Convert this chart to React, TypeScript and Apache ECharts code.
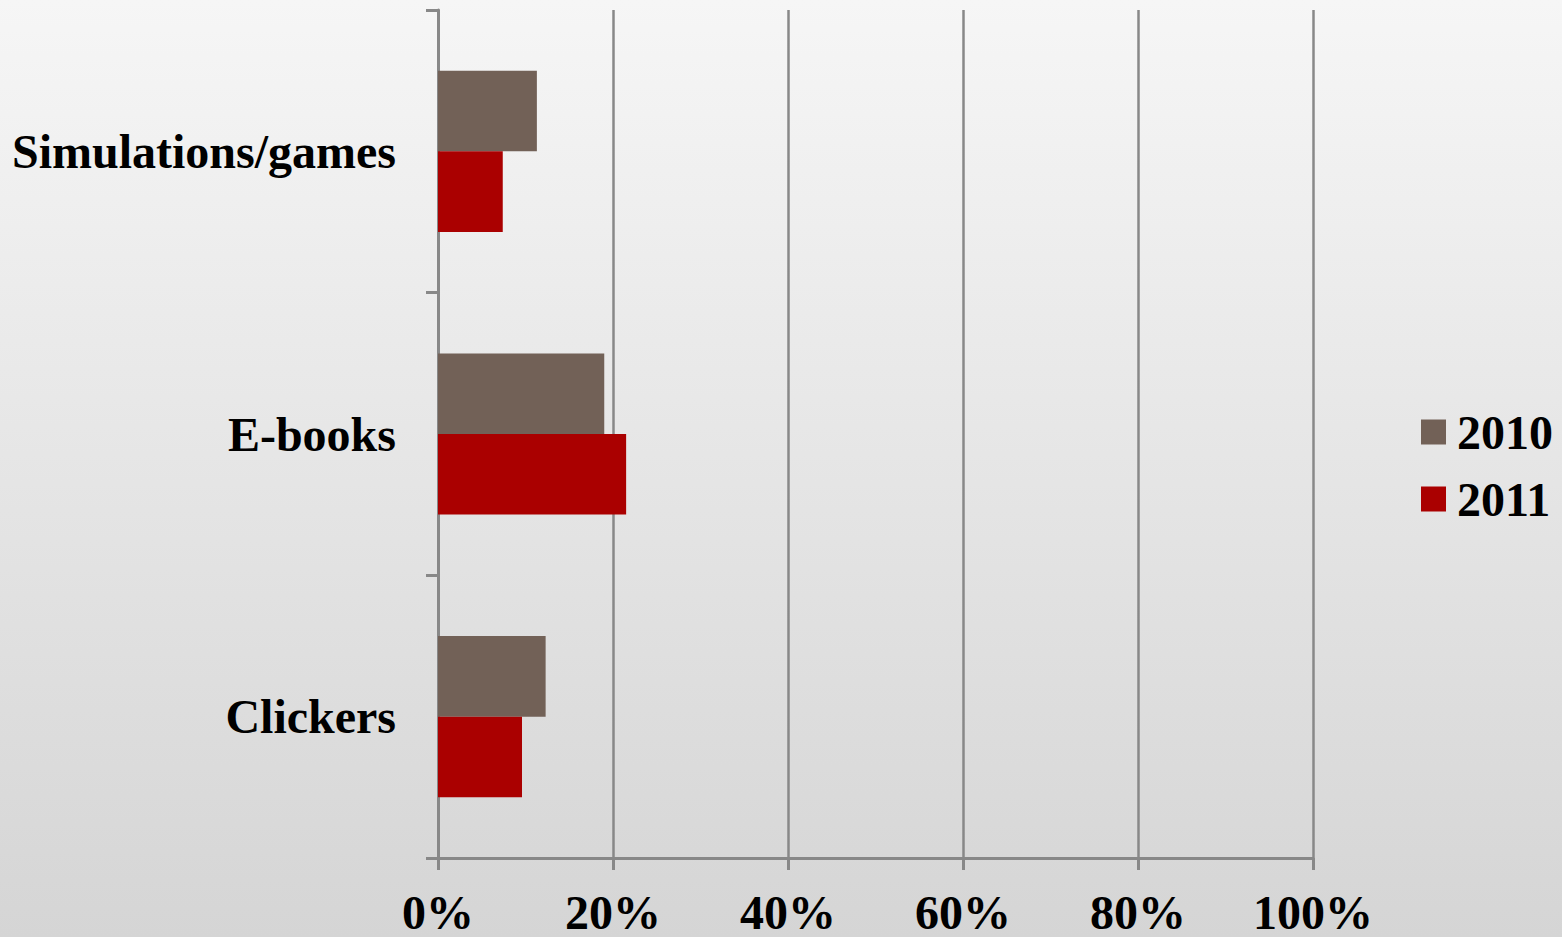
import React, { useEffect, useRef } from "react";
import * as echarts from "echarts";

const categories = ["Simulations/games", "E-books", "Clickers"];
const series2010 = [11.3, 19.0, 12.3];
const series2011 = [7.4, 21.5, 9.6];
const seriesNames = ["2010", "2011"];
const colors = ["#726157", "#AA0000"];

const FONT = "'Liberation Serif', 'Times New Roman', serif";

export default function App() {
  const ref = useRef<HTMLDivElement>(null);
  useEffect(() => {
    document.body.style.margin = "0";
    const chart = echarts.init(ref.current!, null, { renderer: "svg" });
    chart.setOption({
      animation: false,
      backgroundColor: {
        type: "linear",
        x: 0,
        y: 0,
        x2: 0,
        y2: 1,
        colorStops: [
          { offset: 0, color: "#f6f6f6" },
          { offset: 1, color: "#d5d5d5" },
        ],
      },
      grid: { left: 438, right: 249, top: 10, bottom: 79, containLabel: false },
      legend: {
        orient: "vertical",
        left: 1416,
        top: 403,
        itemWidth: 25,
        itemHeight: 25,
        itemGap: 19,
        icon: "rect",
        data: seriesNames,
        textStyle: {
          fontFamily: FONT,
          fontWeight: "bold",
          fontSize: 48,
          color: "#000",
          padding: [0, 0, 0, 6],
        },
      },
      xAxis: {
        type: "value",
        min: 0,
        max: 100,
        interval: 20,
        axisLine: { show: true, lineStyle: { color: "#888", width: 3 } },
        axisTick: { show: true, length: 12, lineStyle: { color: "#888", width: 3 } },
        splitLine: { show: true, lineStyle: { color: "#888", width: 2.5 } },
        axisLabel: {
          formatter: "{value}%",
          fontFamily: FONT,
          fontWeight: "bold",
          fontSize: 48,
          color: "#000",
          margin: 30,
        },
      },
      yAxis: {
        type: "category",
        inverse: true,
        data: categories,
        axisLine: { show: true, lineStyle: { color: "#888", width: 3 } },
        axisTick: { show: true, length: 12, lineStyle: { color: "#888", width: 3 } },
        axisLabel: {
          fontFamily: FONT,
          fontWeight: "bold",
          fontSize: 48,
          color: "#000",
          margin: 42,
        },
      },
      series: [
        {
          name: seriesNames[0],
          type: "bar",
          data: series2010,
          itemStyle: { color: colors[0] },
          barGap: "0%",
          barCategoryGap: "43%",
        },
        {
          name: seriesNames[1],
          type: "bar",
          data: series2011,
          itemStyle: { color: colors[1] },
          barGap: "0%",
          barCategoryGap: "43%",
        },
      ],
    });
    return () => chart.dispose();
  }, []);
  return <div ref={ref} style={{ position: "fixed", left: 0, top: 0, width: 1562, height: 937 }} />;
}
